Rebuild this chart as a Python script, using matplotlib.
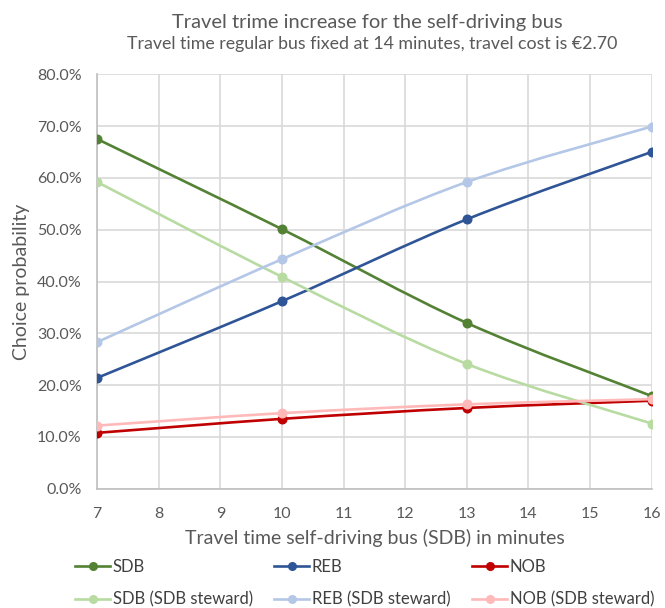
import matplotlib.pyplot as plt
from matplotlib.path import Path
from matplotlib.patches import PathPatch
from matplotlib.lines import Line2D
from matplotlib.ticker import PercentFormatter

plt.rcParams['font.family'] = ['Lato', 'DejaVu Sans']

minutes = [7, 10, 13, 16]
sdb = [67.5, 50.1, 32.0, 17.9]
reb = [21.4, 36.2, 52.0, 65.0]
nob = [10.8, 13.5, 15.6, 17.0]
sdb_steward = [59.2, 40.9, 24.1, 12.6]
reb_steward = [28.3, 44.3, 59.2, 69.9]
nob_steward = [12.2, 14.6, 16.3, 17.3]

series = [
    ('SDB', sdb, '#548235'),
    ('REB', reb, '#2F5597'),
    ('NOB', nob, '#C00000'),
    ('SDB (SDB steward)', sdb_steward, '#B8DBA2'),
    ('REB (SDB steward)', reb_steward, '#B4C7E7'),
    ('NOB (SDB steward)', nob_steward, '#FFB9B9'),
]


def smooth_path(x, y):
    # cubic bezier through every point, like a spreadsheet "smoothed line"
    verts = [(x[0], y[0])]
    codes = [Path.MOVETO]
    n = len(x)
    for i in range(n - 1):
        x0, y0 = (x[i - 1], y[i - 1]) if i > 0 else (x[i], y[i])
        x3, y3 = (x[i + 2], y[i + 2]) if i + 2 < n else (x[i + 1], y[i + 1])
        c1 = (x[i] + (x[i + 1] - x0) / 6, y[i] + (y[i + 1] - y0) / 6)
        c2 = (x[i + 1] - (x3 - x[i]) / 6, y[i + 1] - (y3 - y[i]) / 6)
        verts += [c1, c2, (x[i + 1], y[i + 1])]
        codes += [Path.CURVE4] * 3
    return Path(verts, codes)


fig = plt.figure(figsize=(6.65, 6.08), dpi=100)
ax = fig.add_axes([0.146, 0.196, 0.834, 0.682])

handles = []
for label, vals, color in series:
    ax.add_patch(PathPatch(smooth_path(minutes, vals), fill=False,
                           edgecolor=color, lw=1.9, capstyle='round', zorder=3))
    ax.plot(minutes, vals, 'o', color=color, ms=6.2, zorder=4)
    handles.append(Line2D([], [], color=color, lw=1.9, marker='o', ms=5.5))

ax.set_xlim(7, 16)
ax.set_ylim(0, 80)
ax.set_xticks(range(7, 17))
ax.set_yticks(range(0, 81, 10))
ax.yaxis.set_major_formatter(PercentFormatter(decimals=1))
ax.grid(color='#D9D9D9', lw=1.2)
ax.set_axisbelow(True)
for side in ['top', 'right']:
    ax.spines[side].set_visible(False)
for side in ['left', 'bottom']:
    ax.spines[side].set_color('#BFBFBF')
    ax.spines[side].set_linewidth(1.2)
ax.tick_params(length=0, labelsize=11.5, colors='#595959')
ax.tick_params(axis='x', pad=13)
ax.tick_params(axis='y', pad=11)

ax.set_xlabel('Travel time self-driving bus (SDB) in minutes', fontsize=14,
              color='#595959', labelpad=6)
ax.set_ylabel('Choice probability', fontsize=14, color='#595959', labelpad=5)

fig.text(0.553, 0.963, 'Travel trime increase for the self-driving bus',
         ha='center', va='center', fontsize=14.5, color='#595959')
fig.text(0.56, 0.928, 'Travel time regular bus fixed at 14 minutes, travel cost is €2.70',
         ha='center', va='center', fontsize=12.8, color='#595959')

# legend reads row by row: plain options on top, steward options below
order = [0, 3, 1, 4, 2, 5]
fig.legend(handles=[handles[i] for i in order],
           labels=[series[i][0] for i in order], ncol=3,
           loc='upper left', bbox_to_anchor=(0.113, 0.081), frameon=False,
           borderpad=0, borderaxespad=0,
           fontsize=12, handlelength=2.1, handletextpad=0.15,
           columnspacing=1.3, labelspacing=1.0, labelcolor='#404040')

fig.savefig('out.png', dpi=100)
